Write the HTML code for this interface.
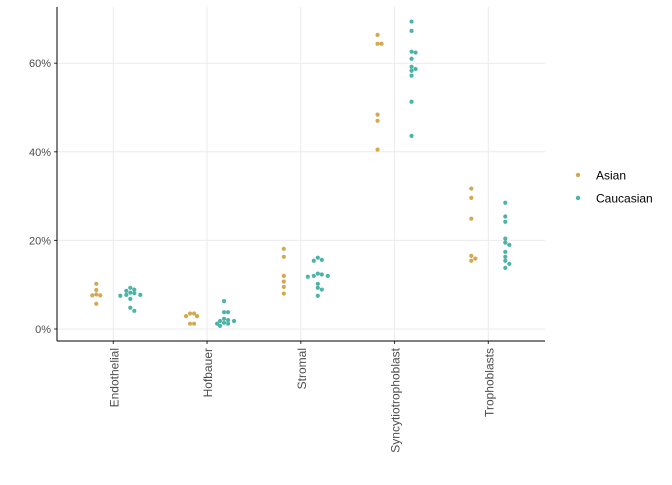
<!DOCTYPE html>
<html><head><meta charset="utf-8"><style>
body{margin:0;background:#fff;}
svg text{font-family:"Liberation Sans",sans-serif;}
</style></head><body>
<svg id="chart" width="672" height="480">
<g id="grid"></g><g id="pts"></g><g id="axes"></g>
<g>
<circle cx="578" cy="175" r="2.2" fill="#D4A84F"/>
<text x="596" y="179.5" font-size="12" fill="#000">Asian</text>
<circle cx="578" cy="198" r="2.2" fill="#4DB3A8"/>
<text x="596" y="202.5" font-size="12" fill="#000">Caucasian</text>
</g>
</svg>
<script>
const categories=["Endothelial","Hofbauer","Stromal","Syncytiotrophoblast","Trophoblasts"];
const yTicks=[0,20,40,60];
const asian=[
[10.2,8.8,7.8,7.6,7.6,5.7],
[3.5,3.5,2.9,2.9,1.2,1.2],
[18.1,16.3,12.0,10.7,9.5,8.0],
[66.4,64.4,64.4,48.4,47.0,40.5],
[31.7,29.6,24.9,16.5,15.9,15.4]];
const caucasian=[
[9.3,8.9,8.6,8.2,8.1,7.7,7.7,7.5,6.8,4.8,4.1],
[6.3,3.8,3.8,2.3,2.0,1.8,1.8,1.4,1.2,1.2,0.7],
[16.1,15.6,15.4,12.5,12.3,12.0,12.0,11.8,10.2,9.3,8.9,7.5],
[69.4,67.3,62.6,62.4,61.0,59.2,58.7,58.3,57.2,51.3,43.6],
[28.5,25.4,24.2,20.4,19.5,19.0,17.4,16.3,15.4,14.7,13.8]];
const NS="http://www.w3.org/2000/svg";
const X0=113.3,XS=93.75,Y0=329,YS=4.43;
const px=i=>X0+i*XS, py=v=>Y0-v*YS;
function mk(t,a,p){const e=document.createElementNS(NS,t);for(const k in a)e.setAttribute(k,a[k]);(p||document.getElementById('chart')).appendChild(e);return e;}
const grid=document.getElementById('grid'),axes=document.getElementById('axes'),pts=document.getElementById('pts');
yTicks.forEach(v=>{
 const l=mk('line',{x1:57,x2:545,y1:py(v),y2:py(v),stroke:'#EBEBEB','stroke-width':1},grid);
 
 
 const t=mk('text',{x:51,y:py(v)+4,'text-anchor':'end','font-size':11,fill:'#4D4D4D'},axes);
 t.textContent=v+'%';
 
 
 mk('line',{x1:54,x2:57,y1:py(v),y2:py(v),stroke:'#333'},axes);
});
categories.forEach((c,i)=>{
 const l=mk('line',{x1:px(i),x2:px(i),y1:7,y2:341,stroke:'#EBEBEB','stroke-width':1},grid);
 
 
 mk('line',{x1:px(i),x2:px(i),y1:341,y2:344,stroke:'#333'},axes);
 const t=mk('text',{transform:`translate(${px(i)+5},348) rotate(-90)`,'text-anchor':'end','font-size':12,fill:'#4D4D4D'},axes);
 t.textContent=c;
 
 
});
mk('line',{x1:57,x2:57,y1:7,y2:341,stroke:'#000','stroke-width':1},axes);
mk('line',{x1:57,x2:545,y1:341,y2:341,stroke:'#000','stroke-width':1},axes);
function swarm(vals,cx,color,name){
 const placed=[];
 vals.forEach(v=>{
  const y=py(v);let off=0;
  const tries=[0,4,-4,7,-7,10,-10];
  for(const o of tries){ if(!placed.some(p=>Math.hypot(p[0]-(cx+o),p[1]-y)<3.5)){off=o;break;} }
  placed.push([cx+off,y]);
  const c=mk('circle',{cx:cx+off,cy:y,r:2.1,fill:color},pts);
  
  
 });
}
categories.forEach((c,i)=>{
 swarm(asian[i],px(i)-17,'#D4A84F','point-asian');
 swarm(caucasian[i],px(i)+17,'#4DB3A8','point-caucasian');
});
</script>
</body></html>
